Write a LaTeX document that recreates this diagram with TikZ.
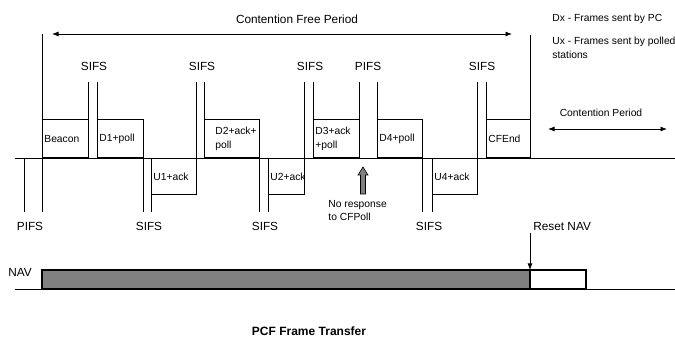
\documentclass[tikz,border=0pt]{standalone}
\usepackage{fontspec}
\setmainfont{Liberation Sans}
\usetikzlibrary{arrows.meta, calc, positioning}
\definecolor{navgray}{HTML}{808080}

\begin{document}
\begin{tikzpicture}[x=1pt, y=-1pt, line width=0.8pt,
        tip/.tip={Latex[length=6.5pt,width=5pt]},
        big/.style={font=\fontsize{11.8}{14}\selectfont, inner sep=0pt},
        small/.style={font=\fontsize{10.3}{13.5}\selectfont, inner sep=0pt, align=left},
        upframe/.style={draw, anchor=south west, minimum height=38pt, inner sep=2pt, align=left, font=\fontsize{10.3}{13.5}\selectfont},
        downframe/.style={upframe, anchor=north west, minimum height=36pt}]
        \useasboundingbox (0,0) rectangle (675,339);

        % medium line
        \draw (15,158) -- (675,158);
        \coordinate (cfpleft) at (42,34);
        \coordinate (cfpright) at (530,35);
        \draw (cfpleft) -- (42,212);
        \draw (cfpright) -- (530,158);
        \draw[tip-tip] (52,34) -- (512,34);
        \node[big] (cfp) at (297,19) {Contention Free Period};

        % frames sent by PC
        \node[upframe, text width=42pt] (beacon) at (42,158) {Beacon};
        \node[upframe, text width=42pt] (d1) at (97,158) {D1+poll};
        \node[upframe, text width=51pt] (d2) at (204,158) {\hspace*{9pt}D2+ack+\\\hspace*{9pt}poll};
        \node[upframe, text width=42pt] (d3) at (313,158) {D3+ack\\+poll};
        \node[upframe, text width=41pt] (d4) at (377,158) {D4+poll};
        \node[upframe, text width=40pt] (cfend) at (486,158) {CFEnd};
        % frames sent by polled stations
        \node[downframe, text width=41pt] (u1) at (151,158) {U1+ack};
        \node[downframe, text width=32pt] (u2) at (268,158) {U2+ack};
        \node[downframe, text width=41pt] (u4) at (432,158) {U4+ack};

        % interframe spaces
        \foreach \x in {88,97,196,204,304,313,359,377,477,486}
            \draw (\x,82) -- (\x,158);
        \foreach \x in {24,143,151,259,268,422,432}
            \draw (\x,158) -- (\x,212);
        \node[big] (s1) at (94,66) {SIFS};
        \node[big] (s2) at (202,66) {SIFS};
        \node[big] (s3) at (310,66) {SIFS};
        \node[big] (p2) at (368,66) {PIFS};
        \node[big] (s5) at (482,66) {SIFS};
        \node[big] (p1) at (30,226) {PIFS};
        \node[big] (s6) at (149,226) {SIFS};
        \node[big] (s7) at (265,226) {SIFS};
        \node[big] (s8) at (429,226) {SIFS};

        % no response
        \draw[fill=navgray, line width=0.6pt] (360.5,194) -- (360.5,175) -- (358,175) -- (363,167)
            -- (368,175) -- (365.5,175) -- (365.5,194) -- cycle;
        \node[small, anchor=north west] (nores) at (328,200) {No response\\to CFPoll};

        % legend
        \node[small, anchor=west] (dx) at (552,19) {Dx - Frames sent by PC};
        \node[small, anchor=north west] (ux) at (552,37) {Ux - Frames sent by polled\\stations};
        \node[small] (cp) at (601,113) {Contention Period};
        \draw[tip-tip] (548,129) -- (667,129);

        % NAV
        \node[big, anchor=west] (nav) at (8,272) {NAV};
        \draw[fill=navgray, line width=1.2pt] (42,270) rectangle (530,289);
        \draw[line width=1.2pt] (530,270) rectangle (586,289);
        \draw (15,289) -- (42,289);
        \draw (586,289) -- (675,289);
        \node[big, anchor=west] (reset) at (533,226) {Reset NAV};
        \coordinate (rsttop) at (530,233);
        \coordinate (rstbot) at (530,270);
        \draw[-tip] (rsttop) -- (rstbot);

        \node[big, font=\fontsize{12}{14}\bfseries] (title) at (309,331) {PCF Frame Transfer};
    \end{tikzpicture}
\end{document}
